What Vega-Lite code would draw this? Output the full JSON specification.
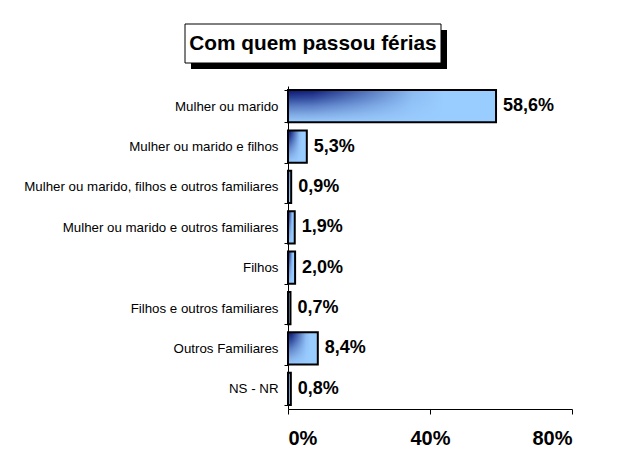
{
  "$schema": "https://vega.github.io/schema/vega-lite/v6.json",
  "background": "white",
  "padding": {"top": 23, "left": 23, "right": 5, "bottom": 5},
  "datasets": {
    "dados": [
      {"categoria": "Mulher ou marido", "valor": 0.586},
      {"categoria": "Mulher ou marido e filhos", "valor": 0.053},
      {"categoria": "Mulher ou marido, filhos e outros familiares", "valor": 0.009},
      {"categoria": "Mulher ou marido e outros familiares", "valor": 0.019},
      {"categoria": "Filhos", "valor": 0.020},
      {"categoria": "Filhos e outros familiares", "valor": 0.007},
      {"categoria": "Outros Familiares", "valor": 0.084},
      {"categoria": "NS - NR", "valor": 0.008}
    ],
    "titulo": [{"texto": "Com quem passou férias"}]
  },
  "vconcat": [
    {
      "width": 256,
      "height": 39,
      "data": {"name": "titulo"},
      "view": {"stroke": null},
      "layer": [
        {"mark": {"type": "rect", "color": "black", "xOffset": -97, "x2Offset": -97, "yOffset": 6, "y2Offset": 6},
         "encoding": {"x": {"value": 0}, "x2": {"value": "width"}, "y": {"value": 0}, "y2": {"value": "height"}}},
        {"mark": {"type": "rect", "fill": "white", "stroke": "black", "strokeWidth": 1, "xOffset": -103, "x2Offset": -103},
         "encoding": {"x": {"value": 0}, "x2": {"value": "width"}, "y": {"value": 0}, "y2": {"value": "height"}}},
        {"mark": {"type": "text", "font": "Liberation Sans", "fontWeight": "bold", "fontSize": 20.8, "color": "black", "baseline": "middle", "align": "center", "dx": -103},
         "encoding": {"text": {"field": "texto"}}}
      ]
    },
    {
      "width": 284,
      "height": 323,
      "data": {"name": "dados"},
      "view": {"stroke": null},
      "encoding": {
        "y": {"field": "categoria", "type": "nominal", "sort": null,
              "scale": {"paddingInner": 0.2, "paddingOuter": 0.1},
              "axis": {"title": null, "labelFont": "Liberation Sans", "labelFontSize": 13.3, "labelColor": "black",
                       "tickBand": "extent", "tickSize": 4, "tickColor": "black", "domainColor": "black",
                       "labelPadding": 6, "labelLimit": 400}},
        "x": {"field": "valor", "type": "quantitative",
              "scale": {"domain": [0, 0.8], "nice": false},
              "axis": {"title": null, "values": [0, 0.4, 0.8], "format": ".0%", "grid": false,
                       "labelFont": "Liberation Sans", "labelFontSize": 20, "labelFontWeight": "bold", "labelColor": "black",
                       "tickSize": 5, "tickColor": "black", "domainColor": "black", "labelPadding": 14}}
      },
      "layer": [
        {"mark": {"type": "bar",
                  "fill": {"gradient": "linear", "x1": 0, "y1": 0, "x2": 0, "y2": 1,
                           "stops": [
                             {"offset": 0, "color": "#0c1470"},
                             {"offset": 0.25, "color": "#2c4599"},
                             {"offset": 0.5, "color": "#5a7cc4"},
                             {"offset": 0.75, "color": "#7fa8e2"},
                             {"offset": 1, "color": "#99ccff"}
                           ]}}},
        {"mark": {"type": "bar", "stroke": "black", "strokeWidth": 2,
                  "fill": {"gradient": "linear", "x1": 0, "y1": 0, "x2": 1, "y2": 0,
                           "stops": [
                             {"offset": 0, "color": "rgba(153,204,255,0)"},
                             {"offset": 0.12, "color": "rgba(153,204,255,0.05)"},
                             {"offset": 0.35, "color": "rgba(153,204,255,0.45)"},
                             {"offset": 0.6, "color": "rgba(153,204,255,0.9)"},
                             {"offset": 0.75, "color": "rgba(153,204,255,1)"},
                             {"offset": 1, "color": "rgba(153,204,255,1)"}
                           ]}}},
        {"mark": {"type": "text", "align": "left", "baseline": "middle", "dx": 7, "font": "Liberation Sans",
                  "fontWeight": "bold", "fontSize": 18, "color": "black"},
         "encoding": {"text": {"field": "valor", "type": "quantitative", "format": ".1%"}}}
      ]
    }
  ],
  "spacing": 23,
  "bounds": "flush",
  "center": false,
  "config": {
    "locale": {"number": {"decimal": ",", "thousands": ".", "grouping": [3], "currency": ["", " €"]}},
    "font": "Liberation Sans"
  }
}
